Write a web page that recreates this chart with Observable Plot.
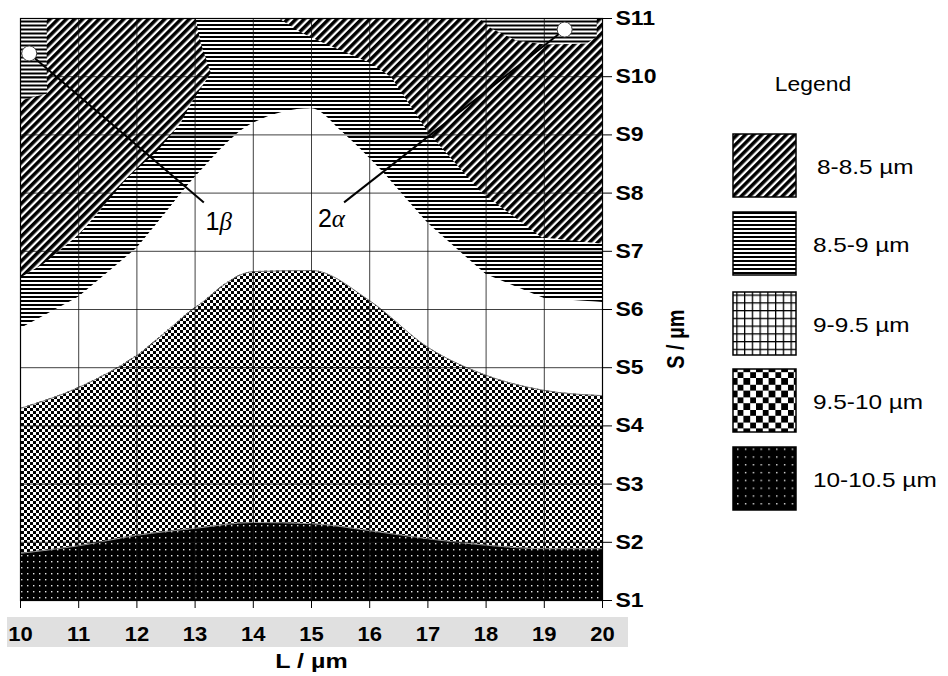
<!DOCTYPE html>
<html><head><meta charset="utf-8">
<script src="https://cdn.jsdelivr.net/npm/d3@7"></script>
<script src="https://cdn.jsdelivr.net/npm/@observablehq/plot@0.6"></script>
<style>
html,body{margin:0;padding:0;background:#fff;}
#chart{width:948px;height:676px;}
</style></head><body><div id="chart"></div>
<script>
// ---------- data ----------
const L = [10, 11, 12, 13, 14, 15, 16, 17, 18, 19, 20];
const sLevels = [1, 2, 3, 4, 5, 6, 7, 8, 9, 10, 11];
const sTickLabels = ["S1","S2","S3","S4","S5","S6","S7","S8","S9","S10","S11"];

// upper boundary of 10-10.5 µm band
const blackTopS = [1.81, 1.94, 2.12, 2.24, 2.34, 2.32, 2.20, 2.06, 1.95, 1.89, 1.89];
// upper boundary of 9.5-10 µm band
const checkerTopS = [4.30, 4.66, 5.21, 6.03, 6.65, 6.67, 6.15, 5.35, 4.87, 4.61, 4.52];
// upper boundary of 9-9.5 µm band
const whiteTopL = [10, 11, 12, 13, 14, 15, 15.56, 16.2, 17, 18, 19, 20];
const whiteTopS = [5.67, 6.21, 7.05, 8.27, 9.20, 9.45, 9.02, 8.39, 7.48, 6.60, 6.19, 6.12];
// 8-8.5 µm regions
const leftDiagL = [10, 13.01, 13.10, 13.27, 13.15, 12.93, 12.75, 12.36, 11.84, 11.03, 10.40, 10];
const leftDiagS = [11, 11, 10.57, 10.07, 9.88, 9.54, 9.20, 8.73, 8.27, 7.31, 6.79, 6.55];
const rightDiagL = [14.44, 14.82, 15.11, 15.51, 16.02, 16.37, 17.02, 17.92, 18.95, 20, 20];
const rightDiagS = [11, 10.76, 10.62, 10.45, 10.23, 9.99, 9.02, 8.01, 7.24, 7.13, 11];
// 8.5-9 µm pockets inside the 8-8.5 regions
const leftPocketL = [10, 10.45, 10.45, 10.46, 10];
const leftPocketS = [11, 11, 9.99, 9.71, 9.59];
const rightPocketL = [17.88, 18.09, 18.52, 19.04, 19.73, 19.9, 19.9];
const rightPocketS = [11, 10.83, 10.62, 10.55, 10.57, 10.69, 11];

// annotations
const annNum = ["1", "2"];
const annGreek = ["β", "α"];
const markerL = [10.15, 19.35];
const markerS = [10.40, 10.81];
const leaderEndL = [13.15, 15.56];
const leaderEndS = [7.84, 7.84];
const annTextL = [13.18, 15.11];
const annTextS = [7.50, 7.56];

// legend
const legendTitle = "Legend";
const legendLabels = ["8-8.5 µm", "8.5-9 µm", "9-9.5 µm", "9.5-10 µm", "10-10.5 µm"];
const legendPatterns = ["p-diag", "p-horiz", "p-grid", "p-checker-lg", "p-dots-lg"];

const xTitle = "L / µm";
const yTitle = "S / µm";

// ---------- tables ----------
const table = (xs, ys) => xs.map((x, i) => ({L: x, S: ys[i]}));
const blackTop = table(L, blackTopS);
const checkerTop = table(L, checkerTopS);
const whiteTop = table(whiteTopL, whiteTopS);
const leftDiag = table(leftDiagL, leftDiagS);
const rightDiag = table(rightDiagL, rightDiagS);
const leftPocket = table(leftPocketL, leftPocketS);
const rightPocket = table(rightPocketL, rightPocketS);
const ann = annNum.map((n, i) => ({
  t: n + annGreek[i], mL: markerL[i], mS: markerS[i],
  eL: leaderEndL[i], eS: leaderEndS[i], tL: annTextL[i], tS: annTextS[i]
}));

const FONT = "'Liberation Sans', Arial, Helvetica, sans-serif";

const plot = Plot.plot({
  width: 948, height: 676,
  marginLeft: 20, marginRight: 346, marginTop: 18, marginBottom: 76,
  x: {domain: [10, 20]},
  y: {domain: [1, 11]},
  style: {fontFamily: FONT, background: "#fff", color: "#000", overflow: "visible"},
  marks: [
    // 8.5-9 µm: everything above the white band
    Plot.areaY(whiteTop, {x: "L", y1: "S", y2: 11, fill: "url(#p-horiz)"}),
    // 8-8.5 µm regions
    Plot.line(leftDiag, {x: "L", y: "S", fill: "url(#p-diag)", stroke: "none"}),
    Plot.line(rightDiag, {x: "L", y: "S", fill: "url(#p-diag)", stroke: "none"}),
    // pockets of 8.5-9 µm
    Plot.line(leftPocket, {x: "L", y: "S", fill: "url(#p-horiz)", stroke: "none"}),
    Plot.line(rightPocket, {x: "L", y: "S", fill: "url(#p-horiz)", stroke: "none"}),
    // 9-9.5 µm (white)
    Plot.areaY(whiteTop, {x: "L", y1: 1, y2: "S", fill: "#fff", curve: "monotone-x"}),
    // 9.5-10 µm
    Plot.areaY(checkerTop, {x: "L", y1: 1, y2: "S", fill: "url(#p-checker)", curve: "monotone-x"}),
    Plot.line(checkerTop, {x: "L", y: "S", stroke: "#777", strokeWidth: 1, curve: "monotone-x"}),
    // 10-10.5 µm
    Plot.areaY(blackTop, {x: "L", y1: 1, y2: "S", fill: "url(#p-dots)", curve: "monotone-x"}),
    Plot.line(blackTop, {x: "L", y: "S", stroke: "#999", strokeWidth: 1, curve: "monotone-x"}),
    // grid
    Plot.ruleX(L, {stroke: "#111", strokeWidth: 1, strokeOpacity: 0.8}),
    Plot.ruleY(sLevels, {stroke: "#111", strokeWidth: 1, strokeOpacity: 0.8}),
    Plot.frame({stroke: "#000", strokeWidth: 1.2}),
    // annotations
    Plot.link(ann, {x1: "mL", y1: "mS", x2: "eL", y2: "eS", stroke: "#000", strokeWidth: 2}),
    Plot.dot(ann, {x: "mL", y: "mS", r: 7.5, fill: "#fff", stroke: "#444", strokeWidth: 1}),
    Plot.text(ann, {x: "tL", y: "tS", text: "t", textAnchor: "start", fontSize: 25, fill: "#000"}),
    // axes
    Plot.axisX(L, {tickSize: 8, tickPadding: 18, fontSize: 20, fontWeight: "bold", label: null, fontFamily: FONT}),
    Plot.axisY(sLevels, {anchor: "right", tickSize: 9, tickPadding: 4, tickFormat: d => sTickLabels[d - 1],
      fontSize: 20, fontWeight: "bold", label: null, fontFamily: FONT}),
    Plot.text([xTitle], {text: d => d, frameAnchor: "bottom", dy: 67, fontSize: 20, fontWeight: "bold"}),
    Plot.text([yTitle], {text: d => d, frameAnchor: "right", dx: 74, rotate: -90, fontSize: 20, fontWeight: "bold"})
  ]
});

document.getElementById("chart").appendChild(plot);

// ---------- patterns ----------
const svg = d3.select(plot);
const defs = svg.insert("defs", ":first-child");
function pat(id, w, h, transform) {
  const p = defs.append("pattern").attr("id", id).attr("patternUnits", "userSpaceOnUse")
    .attr("width", w).attr("height", h);
  if (transform) p.attr("patternTransform", transform);
  return p;
}
{
  const p = pat("p-diag", 5.8, 5.8, "rotate(-45)");
  p.append("rect").attr("width", 5.8).attr("height", 5.8).attr("fill", "#fff");
  p.append("rect").attr("width", 5.8).attr("height", 3.5).attr("fill", "#000");
}
{
  const p = pat("p-horiz", 8, 4);
  p.attr("shape-rendering", "crispEdges");
  p.append("rect").attr("width", 8).attr("height", 4).attr("fill", "#fff");
  p.append("rect").attr("width", 8).attr("height", 2).attr("fill", "#000");
}
function checker(id, s) {
  const p = pat(id, 2 * s, 2 * s);
  p.attr("shape-rendering", "crispEdges");
  p.append("rect").attr("width", 2 * s).attr("height", 2 * s).attr("fill", "#fff");
  p.append("rect").attr("width", s).attr("height", s).attr("fill", "#000");
  p.append("rect").attr("x", s).attr("y", s).attr("width", s).attr("height", s).attr("fill", "#000");
}
checker("p-checker", 3);
checker("p-checker-lg", 6.3);
function dots(id, s) {
  const p = pat(id, s, s);
  p.append("rect").attr("width", s).attr("height", s).attr("fill", "#000");
  p.append("rect").attr("x", s / 2).attr("y", s / 2).attr("width", 1.4).attr("height", 1.4).attr("fill", "#e6e6e6");
}
dots("p-dots", 6);
dots("p-dots-lg", 7.8);
{
  const s = 62 / 8;
  const p = pat("p-grid", s, s);
  p.append("rect").attr("width", s).attr("height", s).attr("fill", "#fff");
  p.append("rect").attr("width", s).attr("height", 1.3).attr("fill", "#000");
  p.append("rect").attr("width", 1.3).attr("height", s).attr("fill", "#000");
}

// grey band behind x tick labels
svg.insert("rect", "defs + *").attr("x", 7).attr("y", 617).attr("width", 621).attr("height", 30).attr("fill", "#e0e0e0");

// Greek letters in italics
svg.selectAll("text").each(function () {
  const t = this.textContent;
  const i = ann.findIndex(a => a.t === t);
  if (i >= 0) {
    const sel = d3.select(this);
    sel.text(null);
    sel.append("tspan").text(annNum[i]);
    sel.append("tspan").attr("font-family", "'Liberation Serif', 'DejaVu Serif', serif").attr("font-style", "italic").text(annGreek[i]);
  }
});

// horizontal stretch of axis text, as in the reference
function stretch(sel, k) {
  sel.each(function () {
    const tr = this.getAttribute("transform");
    if (tr) this.setAttribute("transform", tr + ` scale(${k},1)`);
    else {
      const x = +this.getAttribute("x") || 0, y = +this.getAttribute("y") || 0;
      this.setAttribute("x", 0); this.setAttribute("y", 0);
      this.setAttribute("transform", `translate(${x},${y}) scale(${k},1)`);
    }
  });
}
stretch(svg.selectAll('g[aria-label="x-axis tick label"] text'), 1.1);
stretch(svg.selectAll('g[aria-label="y-axis tick label"] text'), 1.15);
svg.selectAll("text").each(function () {
  if (this.textContent === xTitle) stretch(d3.select(this), 1.25);
  if (this.textContent === yTitle) {
    const tr = this.getAttribute("transform") || "";
    this.setAttribute("transform", tr + " scale(1,1.2)");
  }
});

// ---------- legend ----------
const lg = svg.append("g").style("font-family", FONT).attr("fill", "#000");
lg.append("text").attr("transform", "translate(813,84) scale(1.09,1)").attr("dy", "0.35em")
  .attr("text-anchor", "middle").style("font-size", "21px").text(legendTitle);
const boxTop = [134, 212, 292, 369, 447];
legendLabels.forEach((lab, i) => {
  lg.append("rect").attr("x", 733).attr("y", boxTop[i]).attr("width", 63).attr("height", 63)
    .attr("fill", `url(#${legendPatterns[i]})`).attr("stroke", "#000").attr("stroke-width", 1.5);
  lg.append("text").attr("transform", `translate(${i === 0 ? 817 : 813},${boxTop[i] + 33}) scale(1.16,1)`)
    .attr("dy", "0.35em").attr("text-anchor", "start").style("font-size", "21px").text(lab);
});
</script></body></html>
